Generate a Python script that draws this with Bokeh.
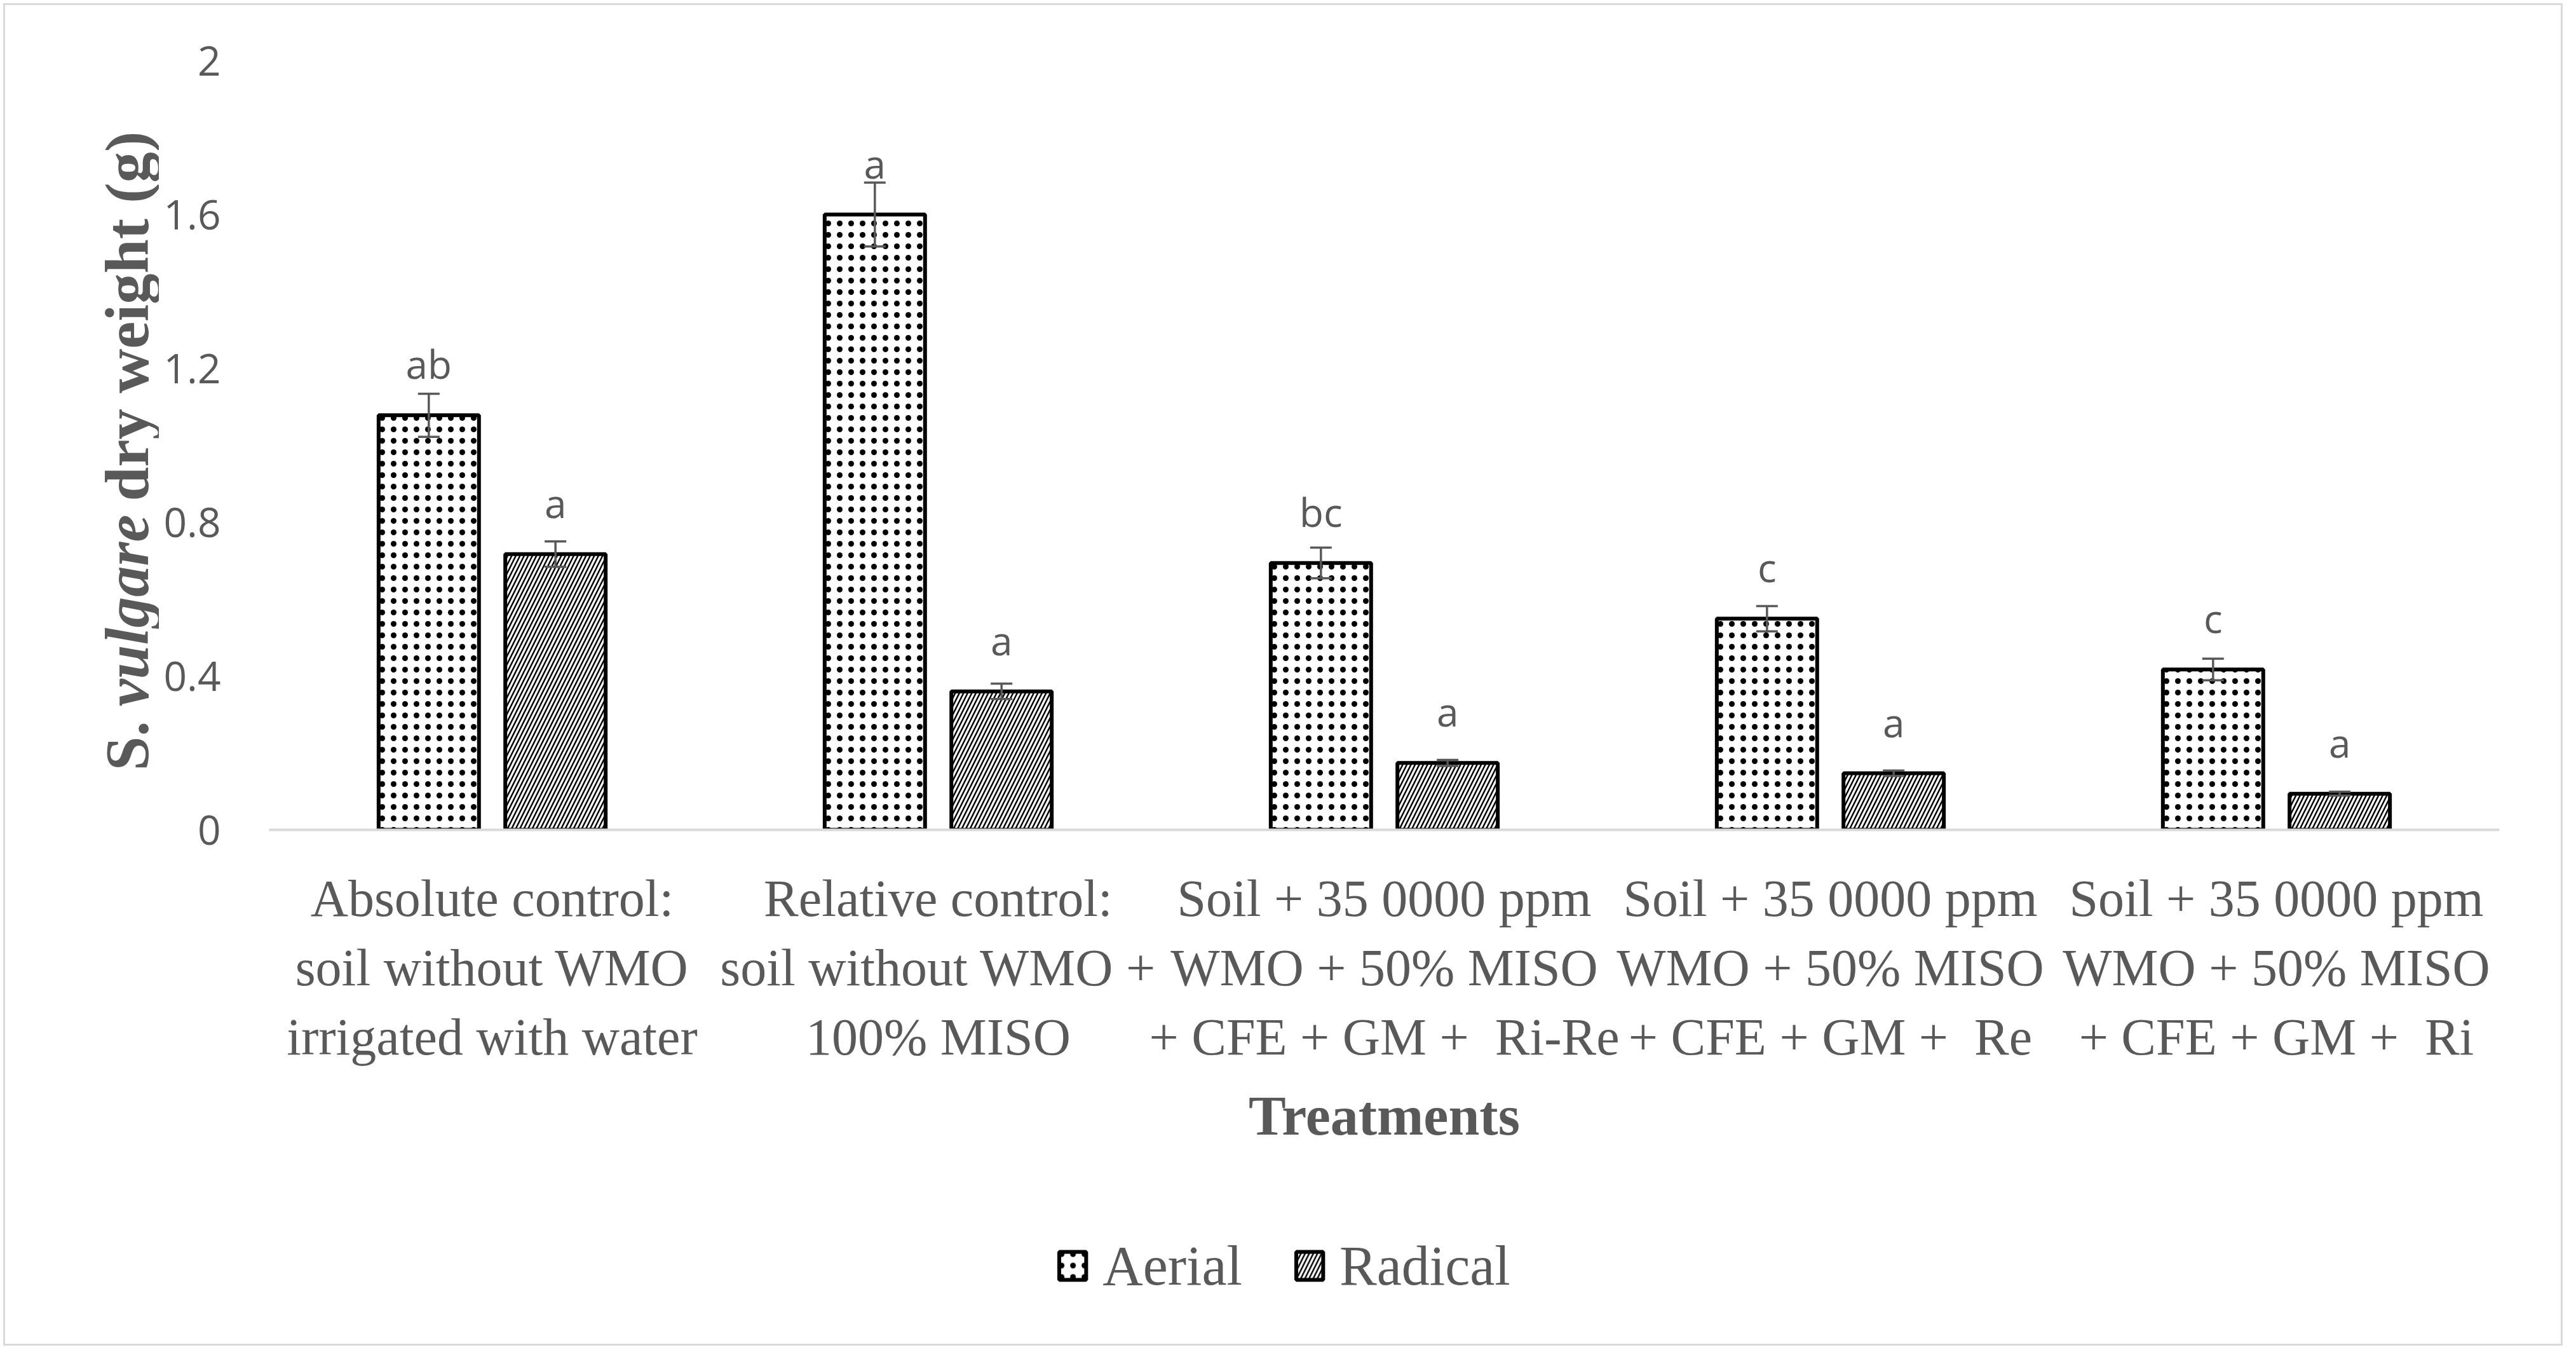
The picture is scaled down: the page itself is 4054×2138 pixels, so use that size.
import math
from bokeh.plotting import figure
from bokeh.layouts import row, column
from bokeh.models import (ColumnDataSource, Whisker, TeeHead, FixedTicker, NumeralTickFormatter,
                          Legend, LegendItem, Range1d)
from bokeh.core.properties import value
from bokeh.embed import file_html
from bokeh.resources import INLINE

# ---------------- data ----------------
categories = [
    "Absolute control:\nsoil without WMO\nirrigated with water",
    "Relative control:\nsoil without WMO +\n100% MISO",
    "Soil + 35 0000 ppm\nWMO + 50% MISO\n+ CFE + GM +\u00a0 Ri-Re",
    "Soil + 35 0000 ppm\nWMO + 50% MISO\n+ CFE + GM +\u00a0 Re",
    "Soil + 35 0000 ppm\nWMO + 50% MISO\n+ CFE + GM +\u00a0 Ri",
]
series_names = ["Aerial", "Radical"]
aerial = [1.078, 1.600, 0.694, 0.549, 0.417]
radical = [0.717, 0.360, 0.174, 0.147, 0.094]
aerial_err = [0.056, 0.083, 0.040, 0.033, 0.028]
radical_err = [0.033, 0.020, 0.008, 0.007, 0.005]
aerial_letters = ["ab", "a", "bc", "c", "c"]
radical_letters = ["a", "a", "a", "a", "a"]
y_ticks = [0, 0.4, 0.8, 1.2, 1.6, 2]
y_title_parts = ["S.", "vulgare", "dry weight (g)"]
x_title = "Treatments"

# ---------------- style ----------------
GRAY = "#595959"
SERIF = "Liberation Serif"
SANS = "Open Sans"
BAR_W = 0.225
OFFSET = 0.142

W, H = 4038, 2122
LW = 250             # strip carrying the y title
HB = 262             # strip carrying the legend
HT = H - HB          # height of the chart row
TOP = 95
BOTTOM = HT - 1305   # frame bottom at canvas y = 1305

AERIAL_STYLE = dict(fill_color="white", line_color="black", line_width=6,
                    hatch_pattern=".", hatch_color="black", hatch_scale=18, hatch_weight=1.7)
RADICAL_STYLE = dict(fill_color="white", line_color="black", line_width=6,
                     hatch_pattern="/", hatch_color="black", hatch_scale=13, hatch_weight=2.5)


def bare(fig):
    fig.frame_align = False
    fig.xgrid.visible = False
    fig.ygrid.visible = False
    fig.outline_line_color = None
    fig.background_fill_alpha = 0
    fig.border_fill_alpha = 0


# ---- left strip: y-axis title (mixed upright / italic) ----
pl = figure(width=LW, height=HT, x_range=Range1d(0, LW), y_range=Range1d(0, HT),
            x_axis_location=None, y_axis_location=None,
            output_backend="svg", toolbar_location=None,
            min_border_left=0, min_border_right=0, min_border_top=0, min_border_bottom=0)
bare(pl)

title_base_y = HT - 1212
title_offsets = [0, 101, 424]
title_styles = ["bold", "bold italic", "bold"]
for part, off, st in zip(y_title_parts, title_offsets, title_styles):
    pl.text(x=[200], y=[title_base_y + off], text=[part], angle=math.pi / 2,
            text_font=value(SERIF), text_font_style=st, text_font_size="97px",
            text_color=GRAY, text_align="left", text_baseline="alphabetic")

# ---- main chart ----
p = figure(width=W - LW, height=HT, x_range=(-0.5, 4.5), y_range=(0, 2),
           output_backend="svg", toolbar_location=None,
           min_border_left=423 - LW, min_border_right=105,
           min_border_top=TOP, min_border_bottom=BOTTOM)
bare(p)

idx = list(range(len(categories)))


def make_src(vals, errs, letters, off):
    xs = [i + off for i in idx]
    return ColumnDataSource(dict(
        x=xs, top=vals,
        upper=[v + e for v, e in zip(vals, errs)],
        lower=[v - e for v, e in zip(vals, errs)],
        letter=letters,
    ))


src_a = make_src(aerial, aerial_err, aerial_letters, -OFFSET)
src_r = make_src(radical, radical_err, radical_letters, OFFSET)

p.vbar(x="x", top="top", bottom=0, width=BAR_W, source=src_a, **AERIAL_STYLE)
p.vbar(x="x", top="top", bottom=0, width=BAR_W, source=src_r, **RADICAL_STYLE)

for src in (src_a, src_r):
    w = Whisker(base="x", upper="upper", lower="lower", source=src, level="overlay",
                line_color=GRAY, line_width=3.5,
                upper_head=TeeHead(size=34, line_color=GRAY, line_width=3.5),
                lower_head=TeeHead(size=34, line_color=GRAY, line_width=3.5))
    p.add_layout(w)
    p.text(x="x", y="top", text="letter", source=src,
           text_font=value(SANS), text_font_size="62px", text_color=GRAY,
           text_align="center", text_baseline="alphabetic", y_offset=-81)

# x axis
p.xaxis.ticker = FixedTicker(ticks=idx)
p.xaxis.major_label_overrides = {i: c for i, c in zip(idx, categories)}
p.xaxis.major_label_text_font = SERIF
p.xaxis.major_label_text_font_size = "82px"
p.xaxis.major_label_text_color = GRAY
p.xaxis.major_label_standoff = 56
p.xaxis.major_tick_line_color = None
p.xaxis.minor_tick_line_color = None
p.xaxis.axis_line_color = "#d9d9d9"
p.xaxis.axis_line_width = 4
p.xaxis.axis_label = x_title
p.xaxis.axis_label_text_font = SERIF
p.xaxis.axis_label_text_font_style = "bold"
p.xaxis.axis_label_text_font_size = "88px"
p.xaxis.axis_label_text_color = GRAY
p.xaxis.axis_label_standoff = 27

# y axis
p.yaxis.ticker = FixedTicker(ticks=y_ticks)
p.yaxis.formatter = NumeralTickFormatter(format="0.[0]")
p.yaxis.axis_line_color = None
p.yaxis.major_tick_line_color = None
p.yaxis.minor_tick_line_color = None
p.yaxis.major_label_text_font = SANS
p.yaxis.major_label_text_font_size = "64px"
p.yaxis.major_label_text_color = GRAY
p.yaxis.major_label_standoff = 70

# ---- bottom strip: legend ----
pb = figure(width=W, height=HB, x_range=Range1d(0, W), y_range=Range1d(0, HB),
            x_axis_location=None, y_axis_location=None,
            output_backend="svg", toolbar_location=None,
            min_border_left=0, min_border_right=0, min_border_top=0, min_border_bottom=0)
bare(pb)
# hidden copies of the two series: they only lend their style to the legend swatches
lg_a = pb.vbar(x="x", top="top", bottom=0, width=BAR_W, source=src_a, visible=False,
               **AERIAL_STYLE)
lg_r = pb.vbar(x="x", top="top", bottom=0, width=BAR_W, source=src_r, visible=False,
               **RADICAL_STYLE)

legend = Legend(items=[LegendItem(label=series_names[0], renderers=[lg_a]),
                       LegendItem(label=series_names[1], renderers=[lg_r])],
                location="center", orientation="horizontal",
                glyph_width=53, glyph_height=55, label_standoff=21, spacing=79,
                padding=0, margin=0, border_line_color=None,
                background_fill_alpha=0, inactive_fill_alpha=0,
                label_text_font=SERIF, label_text_font_size="88px",
                label_text_color=GRAY)
pb.add_layout(legend)

layout = column(row(pl, p), pb, styles={
    "box-shadow": "inset 0 0 0 5px #ffffff, inset 0 0 0 8px #d9d9d9",
    "background-color": "#ffffff",
})

open("out.html", "w").write(file_html(layout, INLINE))
